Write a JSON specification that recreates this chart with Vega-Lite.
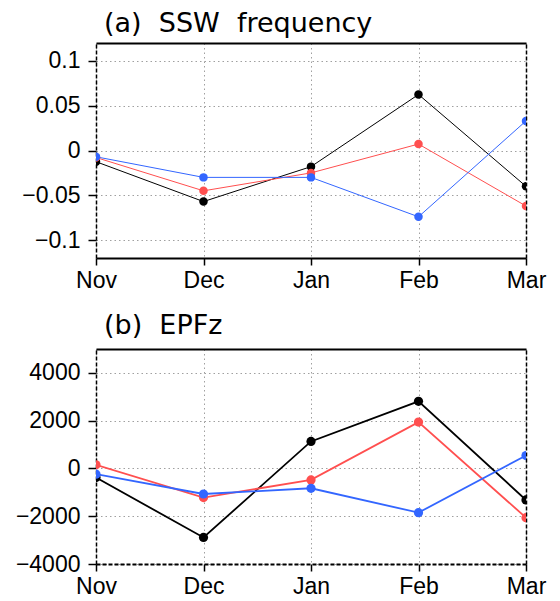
{
  "$schema": "https://vega.github.io/schema/vega-lite/v6.json",
  "padding": {"left": 15, "top": 10, "right": 5, "bottom": 0},
  "config": {
    "view": {"stroke": null},
    "font": "Liberation Sans",
    "axis": {"zindex": 1}
  },
  "spacing": 91,
  "bounds": "flush",
  "datasets": {
    "ssw": [
      {"series": "black", "month": "Nov", "value": -0.0125},
      {"series": "black", "month": "Dec", "value": -0.057},
      {"series": "black", "month": "Jan", "value": -0.018},
      {"series": "black", "month": "Feb", "value": 0.0625},
      {"series": "black", "month": "Mar", "value": -0.040},
      {"series": "red", "month": "Nov", "value": -0.0078},
      {"series": "red", "month": "Dec", "value": -0.045},
      {"series": "red", "month": "Jan", "value": -0.025},
      {"series": "red", "month": "Feb", "value": 0.0072},
      {"series": "red", "month": "Mar", "value": -0.062},
      {"series": "blue", "month": "Nov", "value": -0.007},
      {"series": "blue", "month": "Dec", "value": -0.030},
      {"series": "blue", "month": "Jan", "value": -0.030},
      {"series": "blue", "month": "Feb", "value": -0.074},
      {"series": "blue", "month": "Mar", "value": 0.033}
    ],
    "epfz": [
      {"series": "black", "month": "Nov", "value": -380},
      {"series": "black", "month": "Dec", "value": -2890},
      {"series": "black", "month": "Jan", "value": 1130},
      {"series": "black", "month": "Feb", "value": 2810},
      {"series": "black", "month": "Mar", "value": -1320},
      {"series": "red", "month": "Nov", "value": 150},
      {"series": "red", "month": "Dec", "value": -1220},
      {"series": "red", "month": "Jan", "value": -480},
      {"series": "red", "month": "Feb", "value": 1940},
      {"series": "red", "month": "Mar", "value": -2060},
      {"series": "blue", "month": "Nov", "value": -240},
      {"series": "blue", "month": "Dec", "value": -1070},
      {"series": "blue", "month": "Jan", "value": -830},
      {"series": "blue", "month": "Feb", "value": -1850},
      {"series": "blue", "month": "Mar", "value": 540}
    ]
  },
  "vconcat": [
    {
      "width": 430,
      "height": 215,
      "title": {"text": "(a)\u00a0 SSW\u00a0 frequency", "anchor": "start", "frame": "group", "font": "DejaVu Sans", "fontSize": 27, "fontWeight": "normal", "color": "black", "baseline": "alphabetic", "dx": 8, "offset": -16},
      "data": {"name": "ssw"},
      "layer": [
        {
          "mark": {"type": "line", "strokeWidth": 1, "clip": true},
          "encoding": {
            "x": {"field": "month", "type": "ordinal", "scale": {"type": "point", "padding": 0, "domain": ["Nov", "Dec", "Jan", "Feb", "Mar"]},
              "axis": {"orient": "bottom", "title": null, "labelAngle": 0, "labelFont": "Liberation Sans", "labelFontSize": 23, "labelColor": "black", "labelPadding": 4, "tickSize": 7, "tickColor": "black", "tickWidth": 1.5, "domainColor": "black", "domainWidth": 2, "grid": true, "gridColor": "#a0a0a0", "gridDash": [1.5, 3], "gridWidth": 1,
                "encode": {"labels": {"update": {"dx": {"signal": "datum.value === 'Nov' ? -6 : datum.value === 'Mar' ? 7 : 0"}}}}}},
            "y": {"field": "value", "type": "quantitative", "scale": {"domain": [-0.12, 0.12], "nice": false, "zero": false},
              "axis": {"orient": "left", "title": null, "values": [-0.1, -0.05, 0, 0.05, 0.1], "format": "~g", "labelFont": "Liberation Sans", "labelFontSize": 23, "labelColor": "black", "labelPadding": 8, "tickSize": 8, "tickColor": "black", "tickWidth": 1.5, "domainColor": "black", "domainWidth": 1.5, "domainDash": [4, 2], "grid": true, "gridColor": "#a0a0a0", "gridDash": [1.5, 3], "gridWidth": 1}},
            "color": {"field": "series", "type": "nominal", "scale": {"domain": ["black", "red", "blue"], "range": ["#000000", "#ff4f4f", "#3366ff"]}, "legend": null}
          }
        },
        {
          "mark": {"type": "point", "filled": true, "size": 72, "opacity": 1, "clip": true},
          "encoding": {
            "x": {"field": "month", "type": "ordinal", "scale": {"type": "point", "padding": 0, "domain": ["Nov", "Dec", "Jan", "Feb", "Mar"]},
              "axis": {"orient": "top", "title": null, "labels": false, "ticks": false, "grid": false, "minExtent": 0, "maxExtent": 0, "domainColor": "black", "domainWidth": 2}},
            "y": {"field": "value", "type": "quantitative", "scale": {"domain": [-0.12, 0.12], "nice": false, "zero": false},
              "axis": {"orient": "right", "title": null, "labels": false, "ticks": false, "grid": false, "minExtent": 0, "maxExtent": 0, "domainColor": "black", "domainWidth": 1.5, "domainDash": [4, 2]}},
            "color": {"field": "series", "type": "nominal", "scale": {"domain": ["black", "red", "blue"], "range": ["#000000", "#ff4f4f", "#3366ff"]}, "legend": null}
          }
        }
      ],
      "resolve": {"axis": {"x": "independent", "y": "independent"}}
    },
    {
      "width": 430,
      "height": 215,
      "title": {"text": "(b)\u00a0 EPFz", "anchor": "start", "frame": "group", "font": "DejaVu Sans", "fontSize": 27, "fontWeight": "normal", "color": "black", "baseline": "alphabetic", "dx": 8, "offset": -12},
      "data": {"name": "epfz"},
      "layer": [
        {
          "mark": {"type": "line", "strokeWidth": 1.8, "clip": true},
          "encoding": {
            "x": {"field": "month", "type": "ordinal", "scale": {"type": "point", "padding": 0, "domain": ["Nov", "Dec", "Jan", "Feb", "Mar"]},
              "axis": {"orient": "bottom", "title": null, "labelAngle": 0, "labelFont": "Liberation Sans", "labelFontSize": 23, "labelColor": "black", "labelPadding": 4, "tickSize": 7, "tickColor": "black", "tickWidth": 1.5, "domainColor": "black", "domainWidth": 2, "domainDash": [4, 2], "grid": true, "gridColor": "#a0a0a0", "gridDash": [1.5, 3], "gridWidth": 1,
                "encode": {"labels": {"update": {"dx": {"signal": "datum.value === 'Nov' ? -6 : datum.value === 'Mar' ? 7 : 0"}}}}}},
            "y": {"field": "value", "type": "quantitative", "scale": {"domain": [-4000, 5000], "nice": false, "zero": false},
              "axis": {"orient": "left", "title": null, "values": [-4000, -2000, 0, 2000, 4000], "format": "d", "labelFont": "Liberation Sans", "labelFontSize": 23, "labelColor": "black", "labelPadding": 8, "tickSize": 8, "tickColor": "black", "tickWidth": 1.5, "domainColor": "black", "domainWidth": 1.5, "domainDash": [4, 2], "grid": true, "gridColor": "#a0a0a0", "gridDash": [1.5, 3], "gridWidth": 1}},
            "color": {"field": "series", "type": "nominal", "scale": {"domain": ["black", "red", "blue"], "range": ["#000000", "#ff4f4f", "#3366ff"]}, "legend": null}
          }
        },
        {
          "mark": {"type": "point", "filled": true, "size": 85, "opacity": 1, "clip": true},
          "encoding": {
            "x": {"field": "month", "type": "ordinal", "scale": {"type": "point", "padding": 0, "domain": ["Nov", "Dec", "Jan", "Feb", "Mar"]},
              "axis": {"orient": "top", "title": null, "labels": false, "ticks": false, "grid": false, "minExtent": 0, "maxExtent": 0, "domainColor": "black", "domainWidth": 2}},
            "y": {"field": "value", "type": "quantitative", "scale": {"domain": [-4000, 5000], "nice": false, "zero": false},
              "axis": {"orient": "right", "title": null, "labels": false, "ticks": false, "grid": false, "minExtent": 0, "maxExtent": 0, "domainColor": "black", "domainWidth": 1.5, "domainDash": [4, 2]}},
            "color": {"field": "series", "type": "nominal", "scale": {"domain": ["black", "red", "blue"], "range": ["#000000", "#ff4f4f", "#3366ff"]}, "legend": null}
          }
        }
      ],
      "resolve": {"axis": {"x": "independent", "y": "independent"}}
    }
  ]
}
